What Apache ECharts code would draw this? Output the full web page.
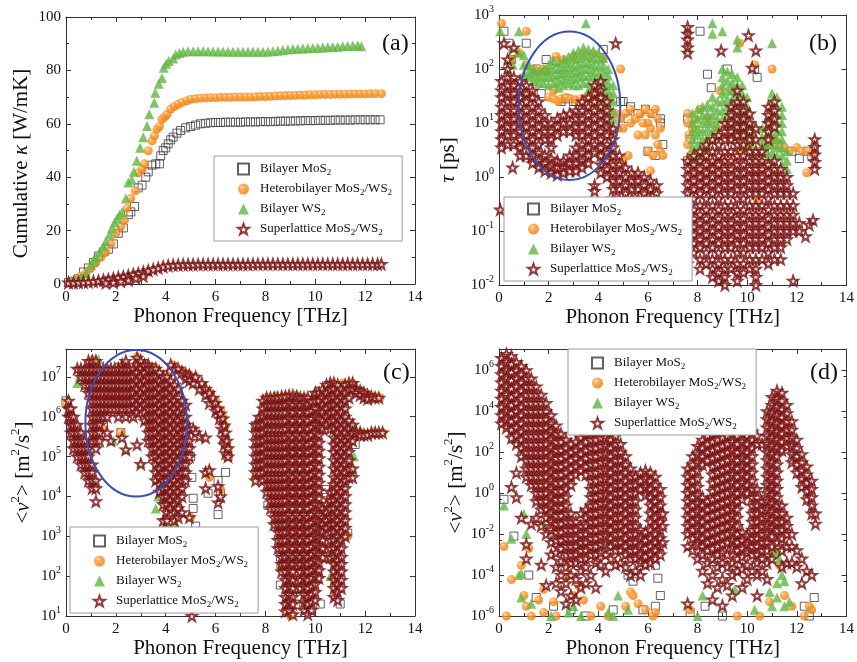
<!DOCTYPE html>
<html><head><meta charset="utf-8">
<script src="https://cdn.jsdelivr.net/npm/echarts@6/dist/echarts.min.js"></script>
<style>html,body{margin:0;padding:0;background:#fff}#c{width:857px;height:662px}</style>
</head><body><div id="c"></div>
<script>
// ---------- series names ----------
const names = ['Bilayer MoS2', 'Heterobilayer MoS2/WS2', 'Bilayer WS2', 'Superlattice MoS2/WS2'];

// ---------- panel (a): cumulative kappa [W/mK] vs frequency [THz] ----------
const a_mos2 = [[0.1,0.5],[0.3,1],[0.5,2],[0.7,4.5],[0.9,6],[1.1,8],[1.3,10.5],[1.5,12],[1.7,13],[1.9,15],[2.1,19],[2.3,21],[2.5,26],[2.6,27],[2.75,29],[2.9,36],[3.05,37],[3.2,40],[3.3,42],[3.45,44.5],[3.6,45],[3.75,45],[3.8,48],[3.9,50],[4.0,51],[4.1,52.5],[4.2,54],[4.3,55],[4.45,56.5],[4.6,57.5],[4.8,58.5],[5.0,59],[5.2,59.5],[5.4,60],[5.6,60.2],[5.8,60.4],[6.0,60.5],[6.2,60.5],[6.4,60.6],[6.6,60.6],[6.8,60.6],[7.0,60.6],[7.2,60.7],[7.4,60.7],[7.6,60.7],[7.8,60.8],[8.0,60.8],[8.2,60.8],[8.4,60.9],[8.6,61],[8.8,61],[9.0,61],[9.2,61.1],[9.4,61.1],[9.6,61.2],[9.8,61.2],[10.0,61.2],[10.2,61.3],[10.4,61.3],[10.6,61.3],[10.8,61.4],[11.0,61.4],[11.2,61.4],[11.4,61.4],[11.6,61.5],[11.8,61.5],[12.0,61.5],[12.2,61.5],[12.4,61.5],[12.6,61.5]];
const a_hetero = [[0.2,1],[0.4,1.5],[0.6,3],[0.8,4],[1.0,6],[1.2,8],[1.4,10],[1.6,12],[1.8,15],[2.0,19],[2.2,21.5],[2.35,24],[2.45,28.4],[2.6,32],[2.78,34.9],[2.9,41.6],[3.05,43],[3.15,45],[3.3,49.9],[3.45,53.6],[3.55,55.5],[3.65,58],[3.75,59],[3.85,61.7],[3.95,62.5],[4.05,63.5],[4.2,65.5],[4.35,66.5],[4.5,67.3],[4.65,68],[4.85,68.6],[5.0,69.2],[5.2,69.4],[5.4,69.6],[5.6,69.7],[5.8,69.8],[6.0,69.8],[6.2,69.9],[6.4,69.9],[6.6,69.9],[6.8,70],[7.0,70],[7.2,70],[7.4,70],[7.6,70.1],[7.8,70.2],[8.0,70.2],[8.2,70.3],[8.4,70.4],[8.6,70.5],[8.8,70.6],[9.0,70.6],[9.2,70.7],[9.4,70.8],[9.6,70.8],[9.8,70.9],[10.0,70.9],[10.2,71],[10.4,71],[10.6,71],[10.8,71.1],[11.0,71.1],[11.2,71.1],[11.4,71.2],[11.6,71.2],[11.8,71.2],[12.0,71.2],[12.2,71.3],[12.4,71.3],[12.65,71.3]];
const a_ws2 = [[0.2,1],[0.4,1.5],[0.6,2.5],[0.8,4],[1.0,7],[1.1,9],[1.2,10],[1.35,12],[1.5,14],[1.6,16],[1.75,18.5],[1.85,21],[1.95,23],[2.05,24.5],[2.15,26],[2.25,27],[2.4,32],[2.5,38],[2.64,39],[2.72,42],[2.84,46.2],[2.97,51],[3.1,55],[3.25,59.2],[3.34,63.6],[3.54,67.9],[3.58,71.6],[3.72,75],[3.85,77.2],[3.92,81],[4.02,82.5],[4.12,83.5],[4.3,84.5],[4.4,86],[4.55,86.5],[4.7,87],[4.9,87.2],[5.1,87.2],[5.3,87.2],[5.5,87.2],[5.7,87.2],[5.9,87.1],[6.1,87.1],[6.3,87.1],[6.5,87.1],[6.7,87],[6.9,87],[7.1,87],[7.3,87],[7.5,87],[7.7,87],[7.9,87],[8.1,87.1],[8.3,87.2],[8.5,87.4],[8.7,87.6],[8.9,87.8],[9.1,88],[9.3,88.1],[9.5,88.2],[9.7,88.3],[9.9,88.4],[10.1,88.5],[10.3,88.6],[10.5,88.7],[10.7,88.8],[10.9,88.9],[11.1,89],[11.3,89.1],[11.5,89.2],[11.7,89.3],[11.85,89]];
const a_sl = [[0.1,0.5],[0.3,0.5],[0.5,0.6],[0.7,0.7],[0.9,0.8],[1.1,1],[1.3,1.2],[1.5,1.5],[1.7,1.8],[1.9,2.1],[2.1,2.5],[2.3,2.8],[2.5,3.2],[2.7,3.6],[2.9,4],[3.1,4.5],[3.3,5],[3.5,5.5],[3.7,6],[3.9,6.5],[4.1,6.9],[4.3,7.1],[4.5,7.2],[4.7,7.3],[4.9,7.3],[5.1,7.3],[5.3,7.4],[5.5,7.4],[5.7,7.4],[5.9,7.4],[6.1,7.4],[6.3,7.4],[6.5,7.4],[6.7,7.4],[6.9,7.4],[7.1,7.4],[7.3,7.4],[7.5,7.5],[7.7,7.5],[7.9,7.5],[8.1,7.5],[8.3,7.5],[8.5,7.5],[8.7,7.5],[8.9,7.5],[9.1,7.5],[9.3,7.5],[9.5,7.5],[9.7,7.5],[9.9,7.5],[10.1,7.5],[10.3,7.5],[10.5,7.5],[10.7,7.5],[10.9,7.5],[11.1,7.5],[11.3,7.5],[11.5,7.5],[11.7,7.5],[11.9,7.5],[12.1,7.5],[12.3,7.5],[12.5,7.5],[12.65,7.5],[1.6,0.4],[1.9,0.6],[2.2,1],[2.5,1.5],[2.8,2.2],[3.1,3]];

// ---------- panel (b): tau [ps]; columns are [freq, tau1, tau2, ...] ----------
const b_mos2 = [[0.2,500],[0.4,300],[0.6,200],[1.1,300],[0.5,150],[1.5,100],[1.9,150],[2.3,140],[1.2,30],[1.7,35],[2.5,25],[2.7,28],[3.0,25],[3.1,25],[3.3,25],[3.5,22],[4.0,30],[4.2,230],[4.9,25],[5.0,25],[5.3,20],[5.6,15],[5.9,18],[6.2,15],[6.5,12],[5.2,12],[6.0,3],[6.3,2.5],[6.6,4],[6.5,10],[7.6,2],[7.6,12],[7.7,5],[8.1,500],[8.4,80],[8.55,45],[9.2,100],[10.3,100],[10.4,70],[11.2,4],[11.8,3],[12.1,2.2],[12.4,3],[12.6,2.5],[12.7,3],[9.4,4],[10.7,3]];
const b_hetero = [[0.1,700],[1.1,500],[0.5,150],[0.8,200],[1.4,100],[1.8,100],[1.1,120],[1.6,90],[1.9,90],[2.2,40],[2.0,30],[2.2,28],[2.4,25],[2.5,28],[2.7,30],[2.9,28],[3.1,27],[3.3,28],[3.5,30],[3.7,28],[3.9,32],[4.1,30],[4.4,30],[2.3,170],[2.6,150],[3.0,170],[3.4,190],[3.8,190],[4.2,160],[4.9,100],[4.7,15],[4.9,12],[5.0,8],[5.1,15],[5.3,18],[5.5,12],[5.7,15],[5.9,18],[6.1,15],[6.3,18],[6.4,12],[6.5,8],[6.3,6],[6.1,8],[5.9,6],[6.0,3],[6.2,2.5],[6.5,3],[5.2,2.5],[5.0,2],[6.1,1.3],[6.0,0.5],[5.3,10],[5.6,6],[6.4,4],[6.6,2.5],[6.0,10],[5.8,10],[4.8,8],[4.6,6],[7.6,15],[7.6,10],[7.65,6],[7.6,4],[7.7,2.5],[7.8,8],[7.9,12],[8.1,18],[8.3,3],[8.5,1.5],[7.9,1.2],[8.2,1],[8.9,40],[9.4,40],[9.7,300],[10.3,120],[11.0,100],[10.5,3],[10.7,4],[10.9,4.5],[11.1,5],[11.3,4],[11.5,3.5],[11.7,3],[12.0,3.5],[12.2,3],[12.4,1.2],[11.1,1],[10.4,1.3],[10.1,1.1],[8.4,12],[8.8,8],[9.3,5],[9.6,6],[10.0,4],[9.8,3],[8.6,1.8],[9.0,2],[10.4,0.35],[12.5,3],[12.6,2.8]];
const b_ws2 = [[0.05,500],[0.35,150,100],[0.55,250,120],[0.8,500,200],[1.0,180,120,80],[1.2,120,90,70],[1.4,100,80,60],[1.6,90,70,55],[1.8,100,75,55],[2.0,120,90,70,50],[2.2,140,100,75,55],[2.4,130,100,80,60,45],[2.6,150,110,85,65,50],[2.8,170,130,100,75,55],[3.0,200,150,110,85,65,50],[3.2,220,160,120,90,70,50],[3.4,250,180,130,100,75,55],[3.5,700],[3.6,230,170,130,100,75,55,40],[3.8,220,160,120,90,70,50,35],[4.0,200,150,110,80,60,45,30,20],[4.2,160,120,90,65,50,35,25,15],[4.4,100,75,55,40,28,20,14,10],[4.6,50,35,25,17,12],[7.8,15,10,7,5,3.5,2.5],[8.0,18,12,8,6,4,2.8,2],[8.2,20,14,10,7,5,3.5,2.5],[8.4,22,15,11,8,5.5,4],[8.6,700,450,30,20,14,10,7,5],[8.8,25,17,12,8.5,6],[9.0,500,100,70,50,35,25,17,12],[9.2,90,60,40,28,20,14,10],[9.4,80,55,40,28,20,14,10,7],[9.6,350,250,70,50,35,25,17,12,8.5,6],[9.8,50,35,25,17,12,8.5,6,4],[10.0,30,20,14,10,7,5,3.5],[10.2,10,7,5,3.5,2.5],[10.6,8,5.5,4,2.8,2],[10.8,12,8.5,6,4,2.8],[11.0,300,35,25,17,12,8.5,6,4,2.8,2],[11.2,30,20,14,10,7,5,3.5,2.5],[11.4,20,14,10,7,5,3.5,2.5,1.7],[11.6,3,2,1.4]];
const b_sl = [[0.1,60,40,30,20,14,10,7,5,3.5],[0.2,300],[0.05,0.25],[0.35,150,100,70,50,35,25,17,12,8.5,6,4],[0.55,1.5],[0.6,250,70,50,35,25,17,12,8.5,6,4],[0.85,60,40,30,20,14,10,7,5,3.5,2.5],[1.1,50,35,25,17,12,8.5,6,4,2.5],[1.35,40,30,20,14,10,7,5,3.5,2.5,1.8],[1.6,25,17,12,8.5,6,4,2.8,2,1.5],[1.85,14,10,7,5,2.5,1.8,1.3],[2.1,10,7,5,3.5,2.2,1.6,1.2],[2.35,12,8.5,6,2,1.5,1.1],[2.6,14,10,7,2,1.5,1.2],[2.85,15,10,7,2.5,1.8,1.3],[3.1,17,12,8.5,6,3.5,2.5,1.8,1.3],[3.35,25,17,12,8.5,6,4,2.8,2,1.5],[3.6,30,20,14,10,7,5,3.5,2.5,1.8],[3.85,50,35,25,17,12,8.5,6,4,2.8,0.7,0.55],[4.1,60,40,30,20,14,10,7,5,3.5,2.5,1.7,1.2],[4.35,25,17,12,8.5,6,4,2.8,2,1.4,1],[4.6,8,5,3.5,2.5,1.7,1.2,0.85,0.6,0.4],[4.7,300],[4.85,2.5,1.7,1.2,0.85,0.6,0.4,0.3],[5.1,1.5,1,0.7,0.5,0.35],[5.35,1.2,0.85,0.6,0.4],[5.6,1.2,0.85,0.6,0.4,0.3],[5.85,1,0.7,0.5,0.35],[6.1,0.85,0.6,0.4,0.3],[6.35,0.7,0.5,0.35],
 [7.6,600,450,350,250,200,2,1.4,1,0.7,0.5,0.35,0.25,0.17,0.12,0.085,0.06,0.04,0.025],[7.85,2.5,1.7,1.2,0.85,0.6,0.4,0.25,0.17,0.12,0.085,0.06,0.04],[8.1,3,2,1.4,1,0.7,0.5,0.3,0.2,0.14,0.1,0.07,0.05,0.03,0.02],[8.35,4,2.5,1.7,1.2,0.85,0.6,0.4,0.25,0.17,0.12,0.085,0.06,0.04,0.025],[8.6,5,3,2,1.4,1,0.7,0.5,0.3,0.2,0.14,0.1,0.07,0.05,0.03,0.02,0.014],[8.85,6,4,2.5,1.7,1.2,0.85,0.6,0.4,0.25,0.17,0.12,0.085,0.06,0.04,0.025,0.017,0.012],[8.95,220],[9.1,10,7,5,3,2,1.4,1,0.7,0.5,0.3,0.2,0.14,0.1,0.07,0.05,0.03,0.02,0.014,0.01],[9.35,20,14,10,7,5,3,2,1.4,1,0.7,0.5,0.3,0.2,0.14,0.1,0.07,0.05,0.03,0.02],[9.6,40,25,17,12,8.5,6,4,2.5,1.7,1.2,0.85,0.6,0.4,0.25,0.17,0.12,0.085,0.06,0.04,0.025,0.017,0.012],[9.85,25,17,12,8.5,6,4,2.5,1.7,1.2,0.85,0.6,0.4,0.25,0.17,0.12,0.085,0.06,0.04,0.025,0.017],[10.05,420],[10.1,15,10,7,5,3,2,1.4,1,0.7,0.5,0.3,0.2,0.14,0.1,0.07,0.05,0.03,0.02],[10.2,105],[10.35,220,8,5,3,2,1.4,1,0.7,0.5,0.3,0.2,0.14,0.1,0.07,0.05,0.03,0.02,0.014,0.01],[10.6,3,2,1.4,1,0.7,0.5,0.3,0.2,0.14,0.1,0.07,0.05,0.03],[10.85,20,14,10,7,5,1.7,1.2,0.85,0.6,0.4,0.25,0.17,0.12,0.085,0.06,0.04,0.025],[11.1,25,17,12,8.5,2,1.4,1,0.7,0.5,0.3,0.2,0.14,0.1,0.07,0.05,0.03],[11.35,1.4,1,0.7,0.5,0.3,0.2,0.14,0.1,0.07,0.05,0.03],[11.6,1,0.7,0.5,0.3,0.2,0.14,0.1,0.07],[11.85,0.5,0.3,0.2,0.14,0.1,0.012],[12.1,0.14,0.1],[12.35,0.08],[12.5,0.13],[12.65,0.16],[12.72,5,3.6,2.6,1.9,1.4]];

// ---------- panel (c): <v^2> [m^2/s^2] ----------
const c_mos2 = [[1.5,6e5],[1.2,5e5],[2.2,4e5],[5.0,1e5],[5.05,3e4],[5.1,9e3],[5.1,5e3],[5.2,1.8e3],[5.7,1.2e4],[6.1,2.5e4],[6.2,1.2e4],[6.1,3.5e3],[8.1,6e3],[8.5,5e3],[8.6,3e2],[8.6,60],[9.2,20],[10.2,20],[11.0,20],[10.4,3e3],[10.3,1.5e3],[11.3,1.2e3],[10.2,5e2],[10.1,4e2],[0.0,2.5e6],[6.5,1e5],[6.4,4e4],[7.6,6e5],[11.6,2e5],[10.4,1.5e4]];
const c_hetero = [[1.1,2.7e7],[0.0,2e6],[1.5,5e5],[2.2,4e5],[4.3,2e7],[4.6,1.5e7],[4.9,1.2e7],[5.2,1e7],[5.5,6e6],[5.8,4e6],[6.0,2.5e6],[6.2,1.5e6],[6.3,1e6],[6.4,6e5],[6.4,3e5],[6.5,1.5e5],[6.5,1e5],[5.7,4.5e4],[5.75,3e4],[6.2,1.5e4],[5.0,3e3],[2.85,3.2e7],[8.0,3e6],[8.4,3.2e6],[8.8,3.3e6],[9.2,3.4e6],[9.6,3e6],[10.0,2.5e6],[10.7,7e6],[11.1,7e6],[11.5,7e6],[11.8,4.5e6],[12.1,3.5e6],[12.4,3.2e6],[12.6,3e6],[11.8,4e5],[12.1,3.8e5],[12.4,4e5],[12.7,4e5],[7.6,6e5],[7.6,3e4],[8.3,6e3],[8.6,3e3],[8.6,1.8e2],[9.1,1e2],[9.1,70],[9.4,5e2],[10.3,5e2],[10.1,1.2e2],[11.3,1e3],[10.4,6e3],[9.1,11],[9.0,10],[6.45,2e5],[3.2,2.2e7],[3.6,1.7e7],[4.0,1.2e7]];
const c_ws2 = [[0.45,7e6],[0.55,1e7],[0.7,1.4e7],[1.0,2.5e5],[1.15,3e5],[1.9,2.5e5],[2.4,1.5e5],[3.0,7e4],[2.3,1.2e7],[1.8,9e6],[2.9,2.2e7],[3.4,1.5e7],[3.7,1e4],[3.6,5e3],[4.0,2e3],[4.4,2e3],[4.0,1.2e4],[3.9,3e5],[4.4,5e5],[1.3,2.8e7],[8.9,80],[9.0,3e2],[9.5,3e6],[10.0,4.5e6],[11.5,7e5],[11.55,1e5],[11.5,5e4],[10.6,1e2],[9.2,50],[8.7,4e2],[10.15,3.8e6],[11.1,6.5e6],[8.6,2e2],[9.0,40],[10.55,3e2],[8.45,3.5e6],[9.3,3.5e6]];
const c_sl = [[0.1,2.5e6,1.6e6,1e6],[0.2,1.6e6,1e6,6.3e5,4e5],[0.3,1e6,6.3e5,4e5,2.5e5,1.6e5],[0.45,1.6e7,6.3e5,4e5,2.5e5,1.6e5,1e5],[0.6,1.6e7,1e7,4e5,2.5e5,1.6e5,1e5,6.3e4],[0.75,1.6e7,1e7,6.3e6,2.5e5,1.6e5,1e5,6.3e4,4e4],[0.9,2.5e7,1.6e7,1e7,6.3e6,4e6,1.6e5,1e5,6.3e4,4e4,2.5e4],[1.05,2.5e7,1.6e7,1e7,6.3e6,4e6,2.5e6,1.6e6,1e6,6.3e5,4e5,2.5e5,6.3e4,4e4,2.5e4,1.6e4],[1.2,2.5e7,1.6e7,1e7,6.3e6,4e6,2.5e6,1.6e6,1e6,6.3e5,4e5,2.5e5,1.6e5,2.5e4,1.6e4,7.5e3],[1.35,1.6e7,1e7,6.3e6,4e6,2.5e6,1.6e6,1e6,6.3e5,4e5,2.5e5],[1.5,1.6e7,1e7,6.3e6,4e6,2.5e6,1.6e6,1e6],[1.65,1.6e7,1e7,6.3e6,4e6,2.5e6,1.6e6,1e6,4e5],[1.8,1.6e7,1e7,6.3e6,4e6,2.5e6,1.6e6,2.5e5],[1.95,1.6e7,1e7,6.3e6,4e6,2.5e6,1.6e6],[2.1,1.6e7,1e7,6.3e6,4e6,2.5e6,1.6e6,1e6],[2.25,2e7,1.6e7,1e7,6.3e6,4e6,2.5e6,1.6e6,3e5],[2.4,2.5e7,1.6e7,1e7,6.3e6,4e6,2.5e6,1.6e6,1e6,1.5e5],[2.55,1.6e7,1e7,6.3e6,4e6,2.5e6,1.6e6],[2.7,1.6e7,1e7,6.3e6,4e6,2.5e6,1.6e6,1e6],[2.85,3e7,2e7,1.3e7,8e6,5e6,3e6,2e6,1.3e6,2e5],[3.0,2.5e7,1.6e7,1e7,6.3e6,4e6,2.5e6,1.6e6,6.5e4],[3.15,2e7,1.3e7,8e6,5e6,3e6,2e6,1.3e6,8e5],[3.3,2e7,1.6e7,1e7,6.3e6,4e6,2.5e6,1.6e6,1e6,6.3e5,4e5,2.5e5],[3.45,1.6e7,1e7,6.3e6,4e6,2.5e6,1.6e6,1e6,6.3e5,4e5,2.5e5,1.6e5,1e5],[3.6,1.6e7,1e7,6.3e6,4e6,2.5e6,1.6e6,1e6,6.3e5,4e5,2.5e5,1.6e5,1e5,6.3e4,4e4,2.5e4],[3.75,1.3e7,8e6,5e6,3e6,2e6,1.3e6,8e5,5e5,3e5,2e5,1.3e5,8e4,5e4,3e4,2e4,1.3e4],[3.9,1e7,6.3e6,4e6,2.5e6,1.6e6,1e6,6.3e5,4e5,2.5e5,1.6e5,1e5,6.3e4,4e4,2.5e4,1.6e4,1e4,6.3e3,2.5e3],[4.05,1e7,6.3e6,4e6,2.5e6,1.6e6,1e6,6.3e5,4e5,2.5e5,1.6e5,1e5,6.3e4,4e4,2.5e4,1.6e4,1e4,6.3e3,4e3,2.5e3],[4.2,2e7,8e6,5e6,3e6,2e6,1.3e6,8e5,5e5,3e5,2e5,1.3e5,8e4,5e4,3e4,2e4,1.3e4,8e3,5e3],[4.35,1.6e7,6.3e6,4e6,2.5e6,1.6e6,1e6,6.3e5,4e5,2.5e5,1.6e5,1e5,6.3e4,4e4,2.5e4,1.6e4,1e4,6.3e3,4e3,2.5e3],[4.5,1.6e7,5e6,3e6,2e6,1.3e6,8e5,5e5,3e5,2e5,1.3e5,8e4,5e4,3e4,2e4,1.3e4,8e3,5e3,3e3],[4.65,1.3e7,2.5e6,1.6e6,1e6,6.3e5,4e5,2.5e5,1.6e5,1e5,6.3e4,4e4,2.5e4,1.6e4,1e4,4e3],[4.8,1.2e7,9e6,2e6,1e6,6.3e5,4e5,2.5e5,1.6e5,1e5,6.3e4,4e4,2.5e4],[4.95,1.1e7,8e6,5e5,2.5e5,1.6e5,1e5,3e3],[5.05,10],[5.1,7e6,5e5],[5.2,1e7,4e5],[5.35,5e6,3.2e5],[5.45,7e6],[5.6,5e6,3.5e6,3e5,4e4,1.6e4],[5.75,4e6,2.2e6,4.5e4],[5.9,3e6],[6.0,2.2e6,1.4e6],[6.1,1.6e6,1.8e4,7e3],[6.15,9e5],[6.2,1.2e6,1e4],[6.25,5e5],[6.3,9e5,3e5],[6.35,6e5,2e5],[6.4,4e5,1.2e5],[6.45,2.5e5],[6.5,1.6e5,1e5],
 [7.6,6.3e5,4e5,2.5e5,1.6e5,1e5,6.3e4,4e4,2.5e4],[7.75,1e6,6.3e5,4e5,2.5e5,1.6e5,1e5,6.3e4,4e4],[7.9,2.5e6,1.6e6,1e6,6.3e5,4e5,2.5e5,1.6e5,1e5,6.3e4,4e4,2.5e4],[8.05,3e6,2e6,1.3e6,8e5,5e5,3e5,2e5,1.3e5,8e4,5e4,3e4,2e4,1.3e4],[8.2,3e6,2e6,1.3e6,8e5,5e5,3e5,2e5,1.3e5,8e4,5e4,3e4,2e4,1.3e4,8e3,5e3],[8.35,3e6,2e6,1.3e6,8e5,5e5,3e5,2e5,1.3e5,8e4,5e4,3e4,2e4,1.3e4,8e3,5e3,3e3,2e3],[8.5,3e6,2e6,1.3e6,8e5,5e5,3e5,2e5,1.3e5,8e4,5e4,3e4,2e4,1.3e4,8e3,5e3,3e3,2e3,1.3e3,8e2,5e2],[8.65,3.2e6,2e6,1.3e6,8e5,5e5,3e5,2e5,1.3e5,8e4,5e4,3e4,2e4,1.3e4,8e3,5e3,3e3,2e3,1.3e3,8e2,5e2,3e2,2e2,1.3e2],[8.8,3.2e6,2e6,1.3e6,8e5,5e5,3e5,2e5,1.3e5,8e4,5e4,3e4,2e4,1.3e4,8e3,5e3,3e3,2e3,1.3e3,8e2,5e2,3e2,2e2,1.3e2,8e1,5e1,3e1,2e1,1.3e1],[8.95,3.4e6,2.2e6,1.4e6,9e5,5.5e5,3.5e5,2.2e5,1.4e5,9e4,5.5e4,3.5e4,2.2e4,1.4e4,9e3,5.5e3,3.5e3,2.2e3,1.4e3,9e2,5.5e2,3.5e2,2.2e2,1.4e2,9e1,5.5e1,3.5e1,2.2e1,1.4e1],[9.1,3.4e6,2e6,1.3e6,8e5,5e5,3e5,2e5,1.3e5,8e4,5e4,3e4,2e4,1.3e4,8e3,5e3,3e3,2e3,1.3e3,8e2,5e2,3e2,2e2,1.3e2,8e1,5e1,3e1,2e1,1.1e1],[9.25,3.2e6,2.2e6,1.4e6,9e5,5.5e5,3.5e5,2.2e5,1.4e5,9e4,5.5e4,3.5e4,2.2e4,1.4e4,9e3,5.5e3,3.5e3,2.2e3,1.4e3,9e2,5.5e2,3.5e2,2.2e2],[9.4,3e6,2e6,1.3e6,8e5,5e5,3e5,2e5,1.3e5,8e4,5e4,3e4,2e4,1.3e4,8e3,5e3,3e3,2e3,1.3e3,8e2,5e2,3e2,2e2,1.3e2,8e1,5e1],[9.55,3e6,2.2e6,1.4e6,9e5,5.5e5,3.5e5,2.2e5,1.4e5,9e4,5.5e4,3.5e4,2.2e4,1.4e4,9e3,5.5e3,3.5e3,2.2e3,1.4e3,9e2,5.5e2,3.5e2,2.2e2,1.4e2,9e1,5.5e1,3.5e1,2.2e1,1.4e1],[9.7,3e6,2e6,1.3e6,8e5,5e5,3e5,2e5,1.3e5,8e4,5e4,3e4,2e4,1.3e4,8e3,5e3,3e3,2e3,1.3e3,8e2,5e2,3e2,2e2,1.3e2,8e1,5e1,3e1,2e1,1.1e1],[9.85,2.5e6,1.4e6,9e5,5.5e5,3.5e5,2.2e5,1.4e5,9e4,5.5e4,3.5e4,2.2e4,1.4e4,9e3,5.5e3,3.5e3,2.2e3,1.4e3,9e2,5.5e2,3.5e2,2.2e2,1.4e2,9e1,5.5e1,3.5e1,2.2e1,1.4e1],[10.0,4e6,2.5e6,1.6e6,1e6,6.3e5,4e5,2.5e5,1.6e5,1e5,6.3e4,4e4,2.5e4,1.6e4,1e4,6.3e3,4e3,2.5e3,1.6e3,1e3,6.3e2,4e2,2.5e2,1.6e2,1e2,6.3e1,4e1,2.5e1],[10.15,4e6,2.5e6,1.4e6,9e5,5.5e5,3.5e5,2.2e5,1.4e5,9e4,5.5e4,3.5e4,2.2e4,1.4e4,9e3,5.5e3,3.5e3,2.2e3,1.4e3,9e2,5.5e2,3.5e2,2.2e2,1.4e2,9e1],[10.3,5e6,3e6,2e6,1.3e6,8e5,5e5,5e3,3e3,2e3,1.3e3,8e2,5e2,3e2],[10.45,6.3e6,4e6,2.5e6,1.6e6,1e6,6.3e5,6.3e3,4e3,2.5e3,1.6e3],[10.6,7e6,5e6,3e6,2e6,1.3e6,8e5,5e5,1.3e4,8e3,5e3,3e3,2e3,1.3e3,8e2,5e2,3e2],[10.75,7e6,5e6,3e6,2e6,1.3e6,8e5,5e5,3e5,2e5,1.3e5,8e4,5e4,3e4,2e4,1.3e4,8e3,5e3,3e3,2e3,1.3e3,8e2,5e2,3e2,2e2,1.3e2,8e1,5e1,3e1],[10.9,6.3e6,4e6,2.5e6,1.6e6,1e6,6.3e5,4e5,2.5e5,1.6e5,1e5,6.3e4,4e4,2.5e4,1.6e4,1e4,6.3e3,4e3,2.5e3,1.6e3,1e3,6.3e2,4e2,2.5e2,1.6e2,1e2,6.3e1,4e1,2.5e1],[11.05,5e6,3e6,2e6,1.3e6,8e5,5e5,3e5,2e5,1.3e5,8e4,5e4,3e4,2e4,1.3e4,8e3,5e3,3e3,2e3,1.3e3,8e2,5e2,3e2,2e2,1.3e2,8e1,5e1],[11.2,6.3e6,4e6,2.5e6,1.6e6,1e6,6.3e5,4e5,2.5e5,1.6e5,1e5,6.3e4,4e4,2.5e4,1.6e4,1e4,6.3e3,4e3,2.5e3,1.6e3,1e3],[11.35,7e6,5e6,3e6,8e5,5e5,3e5,2e5,1.3e5,8e4,5e4,3e4],[11.5,7e6,5e6,6.3e5,4e5,2.5e5,5e4,3e4],[11.65,5e6,4e6,4e5],[11.8,4.5e6,3.5e6,4e5,3.5e5],[11.95,4e6,3e6,3.5e5],[12.1,3.5e6,2.8e6,3.5e5],[12.25,3.2e6,4e5],[12.4,3e6,4e5],[12.55,3e6,4e5],[12.7,4e5]];

// ---------- panel (d): <v^2> [m^2/s^2] ----------
const d_mos2 = [[0.2,0.5],[0.6,8e-3],[1.2,1e-4],[1.5,8e-6],[2.2,3e-6],[2.9,2e-6],[3.5,1e-6],[4.6,2e-6],[5.2,1e-4],[5.4,5e-5],[5.8,2e-6],[6.3,3e-4],[6.4,7e-5],[6.5,1e-5],[6.3,3e-6],[7.7,1.5e-6],[8.3,3e-6],[9.0,1e-6],[11.1,1e-2],[11.3,3e-3],[12.3,3e-6],[12.7,8e-6],[12.5,1e-6]];
const d_hetero = [[0.2,2.5e-3],[0.3,1e-6],[0.5,6e-5],[0.9,3e-4],[1.0,1e-5],[1.2,2e-3],[1.1,3e-6],[1.3,1e-6],[1.6,6e-6],[1.8,2e-5],[1.8,1.5e-6],[2.2,5e-6],[2.3,1e-6],[2.8,1e-4],[3.0,1e-5],[3.2,3e-5],[3.4,6e-6],[3.7,1e-6],[4.1,3e-6],[4.4,1e-6],[5.1,3e-6],[5.3,1.5e-5],[5.4,1e-5],[5.6,4e-6],[5.9,2e-6],[6.2,1e-6],[6.3,1.5e-6],[7.7,2e-6],[10.9,5e-6],[11.1,1.5e-3],[11.3,3e-4],[11.5,1e-5],[11.8,3e-6],[12.3,1e-6],[12.6,2e-6],[12.5,3e-6],[10.5,1e-6],[9.6,1e-6]];
const d_ws2 = [[0.2,0.25],[0.5,6e-3],[1.0,1e-1],[0.8,1e-4],[0.9,1.2e-4],[0.9,8e-6],[1.3,4e-6],[1.8,3e-2],[2.1,1e-6],[2.8,1.5e-6],[3.0,3e-6],[3.3,1e-6],[4.4,1.5e-6],[4.6,1e-6],[5.2,2e-6],[8.2,1e-5],[8.0,1e-6],[10.3,2e-6],[11.0,1e-3],[11.2,1.5e-3],[11.3,6e-4],[11.4,1e-4],[11.2,4e-5],[11.5,5e-5],[10.9,1.5e-5],[11.2,8e-6],[11.5,3e-6],[11.7,5e-6],[11.0,3e-6],[3.2,3e-3],[1.1,1e-2],[4.8,1e-5],[9.5,2e-5]];
const d_sl = [[0.1,4e6,1.6e6,6.3e5,2.5e5,1e5,4e4,1.6e4,6.3e3,2.5e3],[0.3,6.3e6,2.5e6,1e6,4e5,1.6e5,6.3e4,2.5e4,1e4,4e3,1.6e3],[0.5,5e6,2e6,8e5,3.2e5,1.25e5,5e4,2e4,8e3,3.2e3,1.25e3,500,2],[0.7,2.5e6,1e6,4e5,1.6e5,6.3e4,2.5e4,1e4,4e3,1.6e3,630,250,10,0.63],[0.9,1.6e6,6.3e5,2.5e5,1e5,4e4,1.6e4,6.3e3,2.5e3,1e3,400,160,63,0.063],[1.1,1e6,4e5,1.6e5,6.3e4,2.5e4,1e4,4e3,1.6e3,630,250,100,40,16,6.3,3.2e-3,6.3e-4],[1.3,4e5,1.6e5,6.3e4,2.5e4,1e4,4e3,1.6e3,630,250,100,40,16,6.3,2.5,0.032],[1.5,1.6e5,6.3e4,2.5e4,1e4,4e3,1.6e3,630,250,100,40,16,6.3,2.5,1,0.4,0.063],[1.7,6.3e4,2.5e4,1e4,4e3,1.6e3,630,250,100,40,16,6.3,2.5,1,0.4,0.16,0.025,3.2e-4],[1.9,2.5e4,1e4,4e3,1.6e3,630,250,100,40,16,6.3,2.5,1,0.4,0.16,0.063,0.01,3.2e-5],[2.1,6.3e3,2.5e3,1e3,400,160,63,25,10,4,1.6,0.63,0.25,0.1,0.04,0.016,4e-3,1e-3],[2.3,2e3,800,320,125,50,20,8,3.2,1.25,0.5,0.2,0.08,0.032,0.0125,5e-3,1.25e-3,2.5e-4,4e-5],[2.5,800,320,125,50,20,8,3.2,1.25,0.5,0.2,0.08,0.032,0.0125,5e-3,2e-3,5e-4,1e-4,1.6e-5],[2.7,400,160,63,25,10,4,1.6,0.63,0.25,0.1,0.04,0.016,6.3e-3,2.5e-3,1e-3,2.5e-4,4e-5,4e-6],[2.9,250,100,40,16,6.3,2.5,0.1,0.04,0.016,6.3e-3,2.5e-3,1e-3,4e-4,1e-4,1e-5],[3.1,320,125,50,20,8,0.04,0.016,6.3e-3,2.5e-3,1e-3,4e-4,6.3e-5,6.3e-6],[3.3,500,200,80,32,12.5,0.1,0.025,0.01,4e-3,1.6e-3,6.3e-4,1.6e-4,2.5e-5],[3.5,800,320,125,50,20,8,0.16,0.063,0.025,0.01,4e-3,1.6e-3,6.3e-4,2.5e-4,4e-5],[3.7,1e3,400,160,63,25,10,4,1.6,0.63,0.25,0.1,0.04,0.016,6.3e-3,2.5e-3,1e-3,1e-4],[3.9,1e3,400,160,63,25,10,4,1.6,0.63,0.25,0.1,0.04,0.016,6.3e-3,2.5e-3,1e-3,4e-4,2.5e-5],[4.1,1.25e3,500,200,80,32,12.5,5,2,0.8,0.32,0.125,0.05,0.02,8e-3,3.2e-3,1.25e-3,3.2e-4],[4.3,1.25e3,500,200,80,32,12.5,5,2,0.8,0.32,0.125,0.05,0.02,8e-3,3.2e-3,1e-3,1.6e-4],[4.5,1e3,400,160,63,25,10,4,1.6,0.63,0.25,0.1,0.04,0.016,6.3e-3,2.5e-3,6.3e-4],[4.7,630,250,100,40,16,6.3,2.5,1,0.4,0.16,0.063,0.025,0.01,4e-3,1.6e-3,3.2e-4],[4.9,250,100,40,16,6.3,2.5,1,0.4,0.16,0.063,0.025,0.01,4e-3,1.6e-3,4e-4],[5.1,63,25,10,4,1.6,0.63,0.25,0.1,0.04,0.016,6.3e-3,2.5e-3,1e-3,2.5e-4],[5.3,16,6.3,2.5,1,0.4,0.16,0.063,0.025,0.01,4e-3,1.6e-3,6.3e-4,1e-4],[5.5,6.3,2.5,1,0.4,0.16,0.063,0.025,0.01,4e-3,1.6e-3,6.3e-4,1.6e-4],[5.7,10,4,1.6,0.016,6.3e-3,2.5e-3,1e-3,4e-4,1e-4],[5.9,12.5,5,2,0.8,0.0125,5e-3,2e-3,8e-4,3.2e-4],[6.1,10,4,1.6,0.63,0.25,0.1,0.04,0.016,6.3e-3,2.5e-3,1e-3,4e-4],[6.3,6.3,2.5,1,0.4,0.16,0.063,0.025,0.01,4e-3,1.6e-3,6.3e-4],[6.5,1.6,0.63,0.25,0.1,0.04,0.016,6.3e-3,2.5e-3,1e-3],[6.6,0.1,0.025,4e-3],
 [7.6,16,6.3,2.5,1,0.4,0.16,0.063,0.025,0.01,2.5e-3,4e-6],[7.8,63,25,10,4,1.6,0.63,0.25,0.1,0.04,0.016,6.3e-3,1.6e-3],[8.0,200,80,32,12.5,5,2,0.8,0.32,0.125,0.05,0.02,8e-3,3.2e-3,6.3e-4],[8.2,400,160,63,25,0.63,0.25,0.1,0.04,0.016,6.3e-3,2.5e-3,1e-3,1.6e-4],[8.4,630,250,100,40,0.4,0.16,0.063,0.025,0.01,4e-3,1.6e-3,4e-4,4e-5],[8.6,800,320,125,50,20,8,3.2,1.25,0.5,0.2,0.08,0.032,0.0125,5e-3,2e-3,6.3e-4,1e-4,6.3e-6],[8.8,1e3,400,160,63,25,10,4,1.6,0.63,0.25,0.1,0.04,0.016,6.3e-3,2.5e-3,1e-3,2.5e-4,2.5e-5],[9.0,1.25e3,500,200,80,32,12.5,5,2,0.8,0.32,0.125,0.05,0.02,8e-3,3.2e-3,1.25e-3,4e-4,6.3e-5,3.2e-6],[9.2,1.6e3,630,250,100,40,16,6.3,2.5,1,0.4,0.16,0.063,0.025,0.01,4e-3,1e-3,2.5e-4,3.2e-5],[9.4,2e3,800,320,125,50,20,8,3.2,1.25,0.5,0.2,0.08,0.032,0.0125,5e-3,2e-3,4e-4,1e-4,1e-5],[9.6,1.6e3,630,250,100,40,16,6.3,2.5,1,0.4,0.16,0.063,0.025,0.01,4e-3,1.6e-3,6.3e-4,1.6e-4],[9.8,2e3,800,320,125,50,20,8,3.2,1.25,0.5,0.0125,5e-3,2e-3,8e-4,2e-4,2.5e-5],[10.0,1.6e3,630,250,100,40,16,6.3,2.5,1,8e-3,3.2e-3,1.25e-3,3.2e-4,6.3e-5],[10.2,1e3,400,160,63,25,10,4,1.6,0.63,0.25,0.1,0.04,0.016,6.3e-3,2.5e-3,1e-3,1.6e-4],[10.4,630,250,1.6,0.63,0.25,0.1,0.04,0.016,6.3e-3,2.5e-3,1e-3,4e-4,1e-4,1e-5],[10.6,250,0.4,0.16,0.063,0.025,0.01,4e-3,1.6e-3,6.3e-4,1.6e-4],[10.8,1e4,4e3,1.6e3,630,250,100,40,16,6.3,2.5,1,0.4,0.16,0.063,0.025,0.01,4e-3,1.6e-3,4e-4,6.3e-5],[11.0,5e4,2e4,8e3,3.2e3,1.25e3,500,200,80,32,12.5,5,2,0.8,0.32,0.125,0.05,0.02,8e-3,2.5e-3,6.3e-4],[11.2,1e5,4e4,1.6e4,6.3e3,2.5e3,1e3,400,160,63,25,10,4,1.6,0.63,0.25,0.1,0.04,0.016,4e-3],[11.4,8e4,3.2e4,1.25e4,5e3,2e3,800,320,125,0.25,0.1,0.04,0.016,6.3e-3,1.6e-3,2.5e-4],[11.6,2e4,8e3,3.2e3,1.25e3,500,200,0.063,0.025,0.01,2.5e-3,4e-4],[11.8,3.2e3,1.25e3,500,200,80,32,0.01,2.5e-3,4e-4],[12.0,400,160,63,25,10,1.6e-3,2.5e-4],[12.2,80,32,12.5,5,2,6.3e-4,4e-5],[12.4,20,8,3.2,1.25,0.5,1.6e-4],[12.6,4,1.6,0.63,0.25,0.1,1e-4],[12.75,0.1,0.032]];

// ---------- helpers ----------
const FONT = '"Liberation Serif","Times New Roman",serif';
const AX = '#333';
function cols(list) { const out = []; list.forEach(c => { for (let i = 1; i < c.length; i++) out.push([c[0], c[i]]); }); return out; }

const starPath = 'path://M0,-10L2.35,-3.24L9.51,-3.09L3.8,1.24L5.88,8.09L0,4L-5.88,8.09L-3.8,1.24L-9.51,-3.09L-2.35,-3.24Z';
const orangeGrad = new echarts.graphic.RadialGradient(0.36, 0.32, 0.62, [
  {offset: 0, color: '#fff1e2'}, {offset: 0.28, color: '#ffa03c'}, {offset: 1, color: '#ee7f0e'}]);
const styles = [
  {symbol: 'rect', symbolSize: 8, itemStyle: {color: 'rgba(255,255,255,0)', borderColor: '#3a3a3a', borderWidth: 1}},
  {symbol: 'circle', symbolSize: 9, itemStyle: {color: orangeGrad}},
  {symbol: 'triangle', symbolSize: 10, itemStyle: {color: '#62b644'}},
  {symbol: starPath, symbolSize: 10, itemStyle: {color: '#fff6f6', borderColor: '#760b0b', borderWidth: 1.9}}
];

const panels = [
  [a_mos2, a_hetero, a_ws2, a_sl],
  [cols(b_mos2), cols(b_hetero), cols(b_ws2), cols(b_sl)],
  [cols(c_mos2), cols(c_hetero), cols(c_ws2), cols(c_sl)],
  [cols(d_mos2), cols(d_hetero), cols(d_ws2), cols(d_sl)]
];

const grids = [
  {left: 66, top: 17, width: 349, height: 267},
  {left: 499, top: 15, width: 349, height: 270},
  {left: 66, top: 349, width: 349, height: 267},
  {left: 499, top: 349, width: 349, height: 267}
];

function powLabel(v) {
  const e = Math.log10(v); const r = Math.round(e);
  if (Math.abs(e - r) > 1e-6) return '';
  return '{b|10}{s|' + r + '}';
}
const labelRich = {
  b: {fontFamily: FONT, fontSize: 15, color: '#111', lineHeight: 22},
  s: {fontFamily: FONT, fontSize: 10, color: '#111', verticalAlign: 'top', lineHeight: 10}
};
const nameRich = {
  n: {fontFamily: FONT, fontSize: 21, color: '#111', lineHeight: 28},
  i: {fontFamily: FONT, fontSize: 21, color: '#111', fontStyle: 'italic', lineHeight: 28},
  s: {fontFamily: FONT, fontSize: 13, color: '#111', verticalAlign: 'top', lineHeight: 12}
};

function xAx(gi, top) {
  return {
    type: 'value', gridIndex: gi, min: 0, max: 14, interval: 2, position: top ? 'top' : 'bottom',
    axisLine: {show: true, onZero: false, lineStyle: {color: AX, width: 1}},
    axisTick: {show: true, inside: true, length: 5, lineStyle: {color: AX}},
    minorTick: {show: true, splitNumber: 2, length: 3, lineStyle: {color: AX}},
    splitLine: {show: false}, minorSplitLine: {show: false},
    axisLabel: {show: !top, fontFamily: FONT, fontSize: 15, color: '#111', margin: 6},
    name: top ? '' : 'Phonon Frequency [THz]', nameLocation: 'middle', nameGap: 21,
    nameTextStyle: {fontFamily: FONT, fontSize: 21, color: '#111'}
  };
}
const yCfg = [
  {type: 'value', min: 0, max: 100, interval: 20, minor: true,
   name: '{n|Cumulative }{i|κ}{n| [W/mK]}', nameGap: 31, pad: [0, 26, 0, 0]},
  {type: 'log', min: 0.01, max: 1000, minor: false,
   name: '{i|τ}{n| [ps]}', nameGap: 37, pad: [0, 20, 0, 0]},
  {type: 'log', min: 10, max: 5e7, minor: false,
   name: '{n|<}{i|v}{s|2}{n|> [m}{s|2}{n|/s}{s|2}{n|]}', nameGap: 29, pad: [0, 0, 0, 20]},
  {type: 'log', logBase: 100, min: 1e-6, max: 1.1e7, minor: true,
   name: '{n|<}{i|v}{s|2}{n|> [m}{s|2}{n|/s}{s|2}{n|]}', nameGap: 29, pad: [0, 0, 0, 0]}
];
function yAx(gi, right) {
  const c = yCfg[gi];
  const ax = {
    type: c.type, gridIndex: gi, min: c.min, max: c.max, position: right ? 'right' : 'left',
    axisLine: {show: true, onZero: false, lineStyle: {color: AX, width: 1}},
    axisTick: {show: true, inside: true, length: 5, lineStyle: {color: AX}},
    minorTick: {show: c.minor, splitNumber: 2, length: 3, lineStyle: {color: AX}},
    splitLine: {show: false}, minorSplitLine: {show: false},
    axisLabel: {show: !right, fontFamily: FONT, fontSize: 15, color: '#111', margin: 5},
    name: right ? '' : c.name, nameLocation: 'middle', nameGap: c.nameGap, nameRotate: 90,
    nameTextStyle: {fontFamily: FONT, fontSize: 21, color: '#111', padding: c.pad, rich: nameRich}
  };
  if (c.interval) ax.interval = c.interval;
  if (c.logBase) ax.logBase = c.logBase;
  if (c.type === 'log') { ax.axisLabel.formatter = powLabel; ax.axisLabel.rich = labelRich; }
  return ax;
}

const xAxis = [], yAxis = [], series = [];
for (let g = 0; g < 4; g++) {
  xAxis.push(xAx(g, false), xAx(g, true));
  yAxis.push(yAx(g, false), yAx(g, true));
  for (let k = 0; k < 4; k++) {
    series.push(Object.assign({
      type: 'scatter', name: names[k], data: panels[g][k], xAxisIndex: 2 * g, yAxisIndex: 2 * g,
      animation: false, silent: true, large: false, progressive: 0, z: 2 + k
    }, styles[k]));
  }
}

function mkLegend(left, top, padTop) {
  return {
    left: left, top: top, orient: 'vertical', data: names.slice(), selectedMode: false,
    itemWidth: 11, itemHeight: 11, itemGap: 4, padding: [padTop, 10, 4, 23],
    borderColor: '#9a9a9a', borderWidth: 1, backgroundColor: '#ffffff', z: 20,
    formatter: n => n.replace(/2/g, '{sub|2}'),
    textStyle: {fontFamily: FONT, fontSize: 13, color: '#111', lineHeight: 16, padding: [0, 0, 0, 6],
      rich: {sub: {fontFamily: FONT, fontSize: 9, color: '#111', verticalAlign: 'bottom', lineHeight: 9}}}
  };
}

const letter = (t, x, y) => ({type: 'text', left: x, top: y, z: 50,
  style: {text: t, fontFamily: FONT, fontSize: 24, fill: '#111'}});

const option = {
  backgroundColor: '#ffffff',
  animation: false,
  grid: grids,
  xAxis: xAxis,
  yAxis: yAxis,
  legend: [mkLegend(214, 156, 5), mkLegend(504, 197, 4), mkLegend(70, 527, 6), mkLegend(568, 349, 6)],
  series: series,
  graphic: [
    letter('(a)', 382, 32), letter('(b)', 809, 32), letter('(c)', 383, 361), letter('(d)', 810, 361),
    {type: 'ellipse', z: 40, shape: {cx: 569.5, cy: 105.8, rx: 50.8, ry: 74.2}, style: {fill: 'none', stroke: '#3a4fb2', lineWidth: 2}},
    {type: 'ellipse', z: 40, shape: {cx: 136.2, cy: 423.3, rx: 50.8, ry: 73.3}, style: {fill: 'none', stroke: '#3a4fb2', lineWidth: 2}}
  ]
};
const chart = echarts.init(document.getElementById('c'));
chart.setOption(option);
</script></body></html>
